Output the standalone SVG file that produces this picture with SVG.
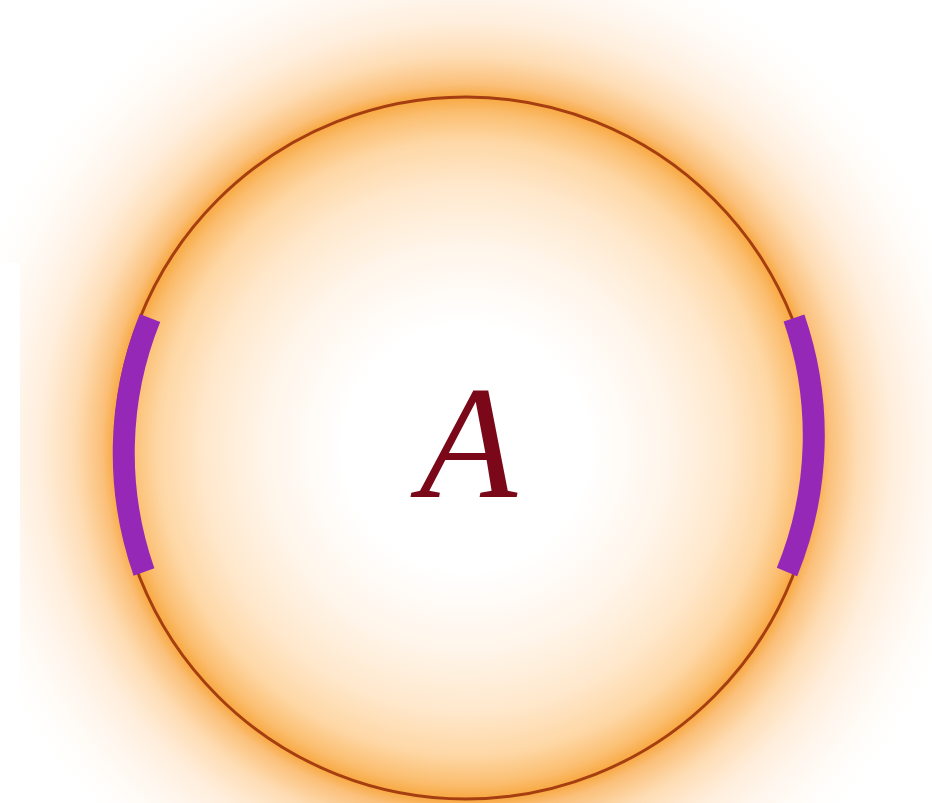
<svg xmlns="http://www.w3.org/2000/svg" width="932" height="803" viewBox="0 0 932 803">
  <defs>
    <radialGradient id="glow" cx="466" cy="448" r="560" gradientUnits="userSpaceOnUse">
      <stop offset="0" stop-color="#FFFFFF"/>
      <stop offset="0.22" stop-color="#FFFFFF"/>
      <stop offset="0.36" stop-color="#FFF5EA"/>
      <stop offset="0.47" stop-color="#FFE8CC"/>
      <stop offset="0.55" stop-color="#FED7A5"/>
      <stop offset="0.60" stop-color="#FBBE70"/>
      <stop offset="0.627" stop-color="#F8A841"/>
      <stop offset="0.65" stop-color="#FBC07A"/>
      <stop offset="0.70" stop-color="#FEDDB5"/>
      <stop offset="0.76" stop-color="#FFEEDC"/>
      <stop offset="0.82" stop-color="#FFF7EF"/>
      <stop offset="0.88" stop-color="#FFFDFA"/>
      <stop offset="0.92" stop-color="#FFFFFF"/>
      <stop offset="1" stop-color="#FFFFFF"/>
    </radialGradient>
    <clipPath id="glowClip">
      <polygon points="0,0 932,0 932,803 20,803 20,263 0,263"/>
    </clipPath>
    <style>
      .ring { fill: none; stroke: #A53E10; stroke-width: 3; }
      .port { fill: none; stroke: #9628B8; stroke-width: 22; stroke-linecap: butt; }
      .label { font-family: "Liberation Serif", "DejaVu Serif", serif; font-style: italic; font-size: 160px; fill: #7A0818; }
    </style>
  </defs>
  <rect width="932" height="803" fill="#FFFFFF"/>
  <g id="background-glow" clip-path="url(#glowClip)">
    <circle cx="466" cy="448" r="560" fill="url(#glow)"/>
  </g>
  <g id="node-A">
    <circle class="ring" cx="466" cy="448" r="351"/>
    <text class="label" x="468" y="497" text-anchor="middle">A</text>
  </g>
  <g id="connectors">
    <path class="port" d="M 150 318 A 360 360 0 0 0 144 572"/>
    <path class="port" d="M 794 318 A 360 360 0 0 1 787 572"/>
  </g>
</svg>
